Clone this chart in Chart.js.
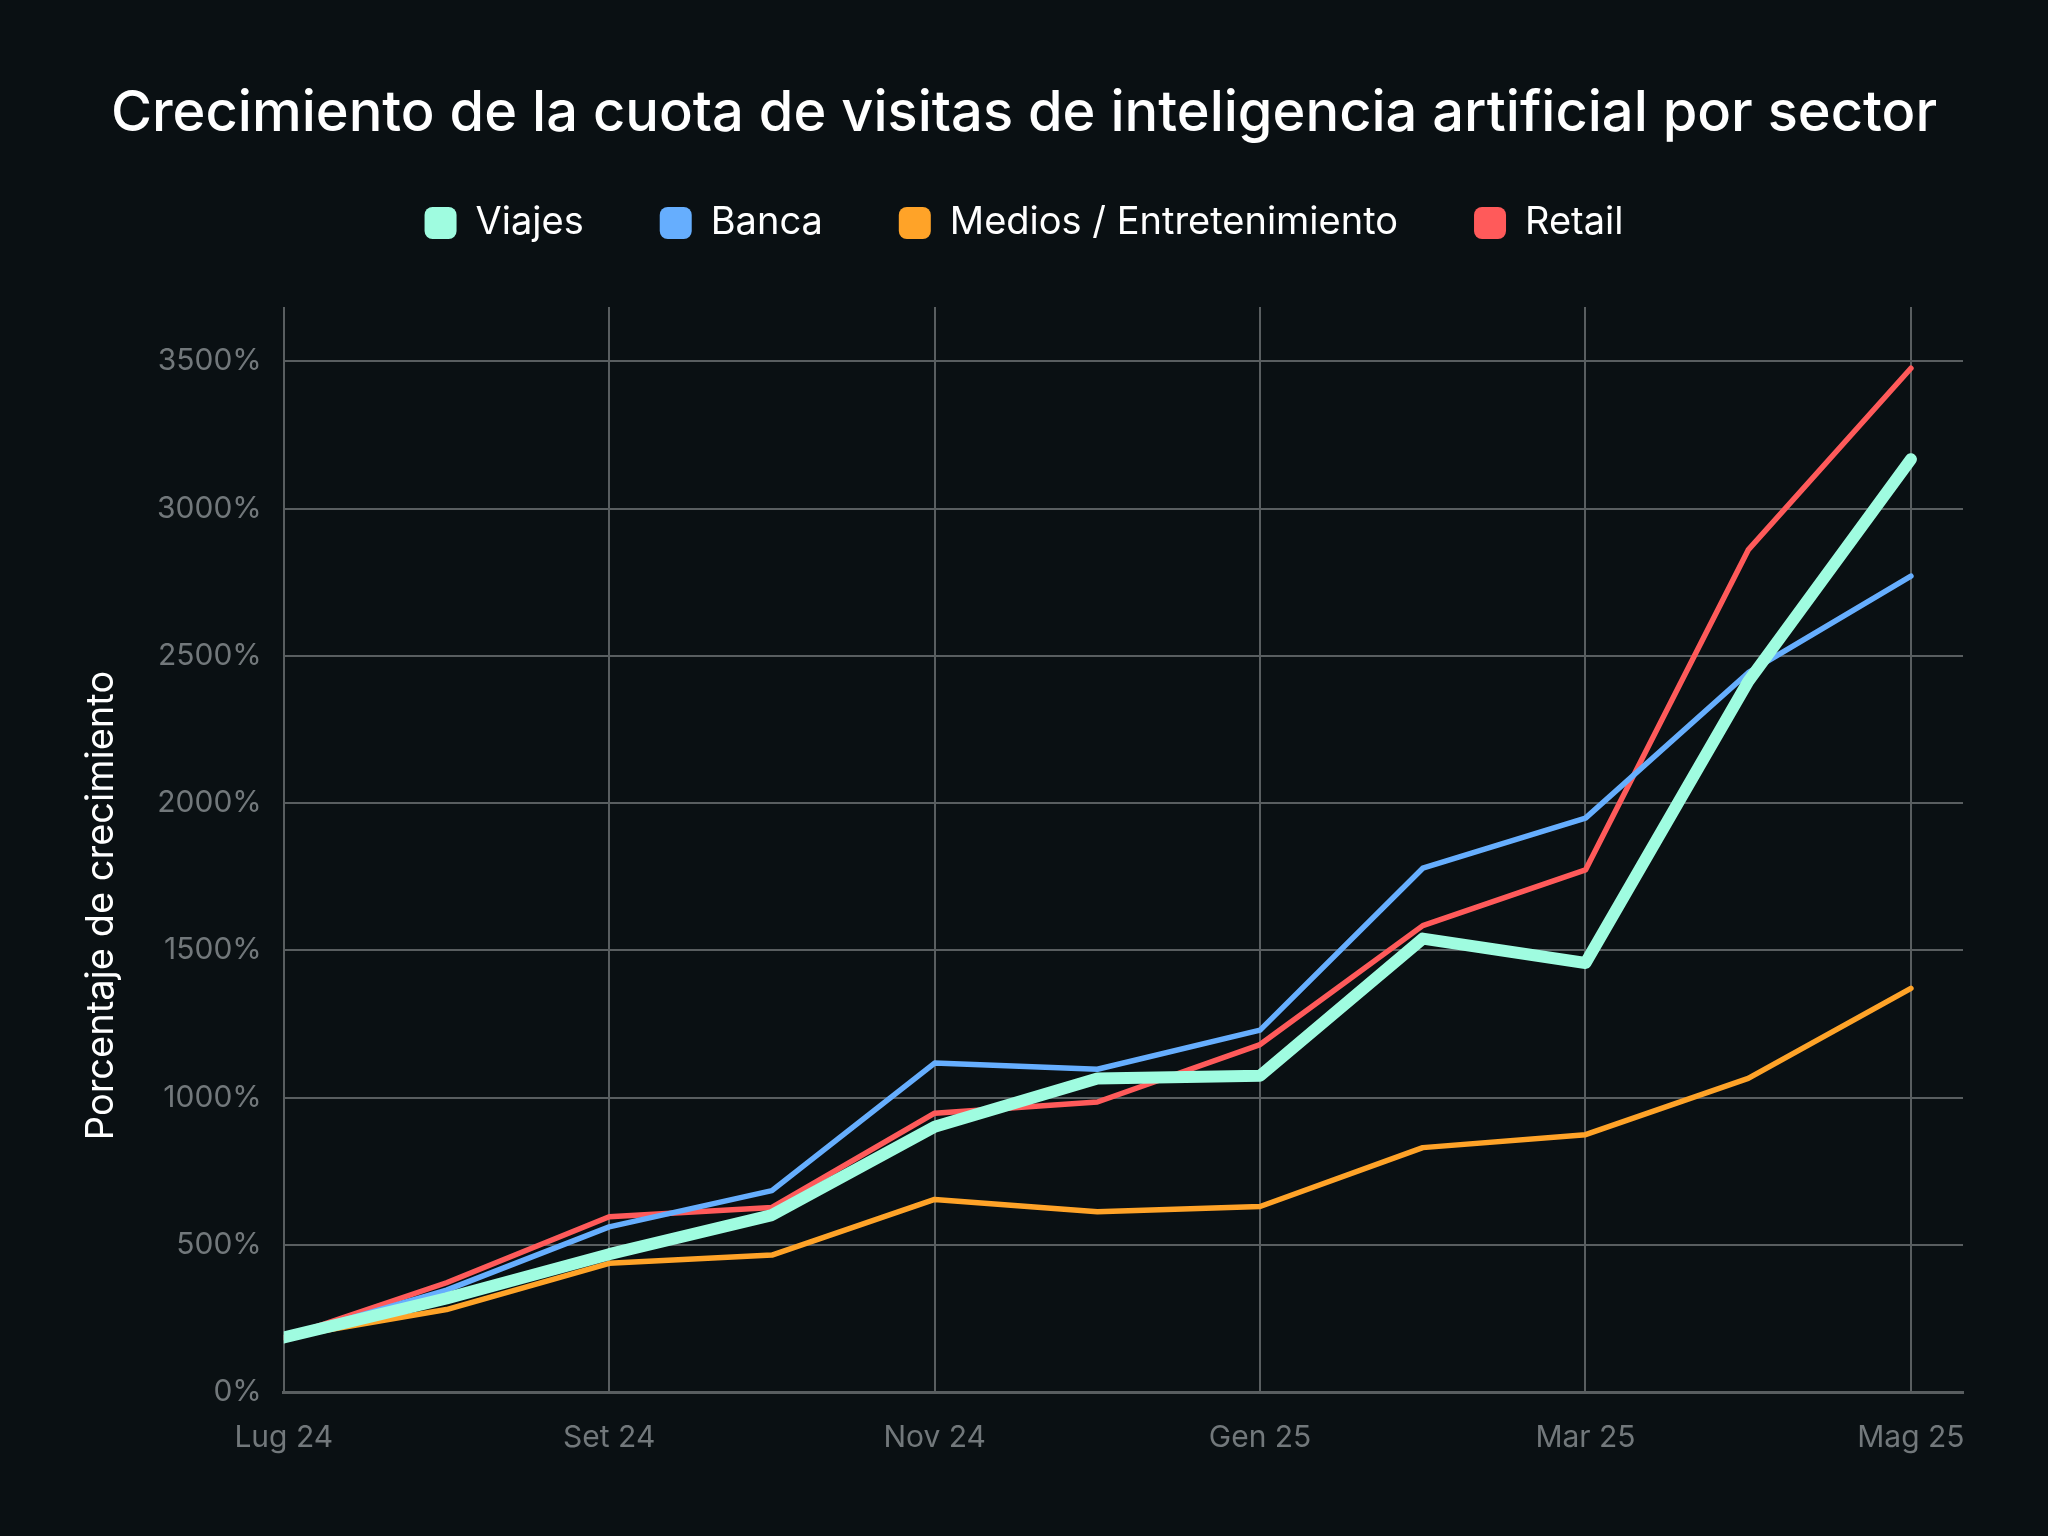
<!DOCTYPE html>
<html>
<head>
<meta charset="utf-8">
<script src="https://cdn.jsdelivr.net/npm/chart.js@4.4.1/dist/chart.umd.min.js"></script>
<style>
    html, body { margin: 0; padding: 0; background: #0a1013; }
    #wrap { width: 2048px; height: 1536px; }
</style>
</head>
<body>
<div id="wrap"><canvas id="chart" width="2048" height="1536"></canvas></div>
<script>
// months on the x axis (one point per month)
const months = ['Lug 24', 'Ago 24', 'Set 24', 'Ott 24', 'Nov 24', 'Dic 24', 'Gen 25', 'Feb 25', 'Mar 25', 'Apr 25', 'Mag 25'];

// growth in % per sector
const viajes = [185, 318, 468, 601, 901, 1065, 1074, 1540, 1457, 2413, 3168];
const banca  = [185, 346, 561, 684, 1117, 1096, 1229, 1779, 1949, 2443, 2771];
const medios = [185, 280, 437, 465, 654, 612, 630, 830, 874, 1065, 1371];
const retail = [185, 371, 595, 627, 947, 985, 1180, 1584, 1773, 2860, 3477];

const yTicks = [0, 500, 1000, 1500, 2000, 2500, 3000, 3500];
const yTitleText = 'Porcentaje de crecimiento';

const toPoints = (arr) => arr.map((v, i) => ({ x: i, y: v }));

const gridColor = '#595e60';
const tickColor = '#72787b';
const fontFamily = 'Inter, "Noto Sans", sans-serif';

Chart.defaults.font.family = fontFamily;

// some room between the legend and the plot
const legendGap = {
    id: 'legendGap',
    afterInit(chart) {
        const fit = chart.legend.fit;
        chart.legend.fit = function () {
            fit.call(this);
            this.height += 55;
        };
    }
};

// y axis title sits a bit below the middle of the plot in the original
const yTitle = {
    id: 'yTitle',
    afterDraw(chart) {
        const { ctx, chartArea } = chart;
        ctx.save();
        ctx.translate(102, (chartArea.top + chartArea.bottom) / 2 + 56);
        ctx.rotate(-Math.PI / 2);
        ctx.font = '38px ' + fontFamily;
        ctx.fillStyle = '#ffffff';
        ctx.textAlign = 'center';
        ctx.textBaseline = 'middle';
        ctx.fillText(yTitleText, 0, 0);
        ctx.restore();
    }
};

new Chart(document.getElementById('chart'), {
    type: 'line',
    data: {
        datasets: [
            { label: 'Viajes', data: toPoints(viajes), borderColor: '#9ffce0', backgroundColor: '#9ffce0', borderWidth: 12 },
            { label: 'Banca', data: toPoints(banca), borderColor: '#66aefe', backgroundColor: '#66aefe', borderWidth: 5.5 },
            { label: 'Medios / Entretenimiento', data: toPoints(medios), borderColor: '#ffa328', backgroundColor: '#ffa328', borderWidth: 5.5 },
            { label: 'Retail', data: toPoints(retail), borderColor: '#ff5a5a', backgroundColor: '#ff5a5a', borderWidth: 5.5 }
        ]
    },
    plugins: [legendGap, yTitle],
    options: {
        responsive: false,
        animation: false,
        devicePixelRatio: 1,
        layout: { padding: { left: 85, right: 85, top: 0, bottom: 52 } },
        elements: {
            point: { radius: 0 },
            line: { tension: 0, borderCapStyle: 'round', borderJoinStyle: 'round' }
        },
        plugins: {
            title: {
                display: true,
                text: 'Crecimiento de la cuota de visitas de inteligencia artificial por sector',
                color: '#ffffff',
                font: { size: 56, weight: '500', lineHeight: 0.5 },
                padding: { top: 100, bottom: 0 }
            },
            legend: {
                labels: {
                    color: '#ffffff',
                    font: { size: 38 },
                    boxWidth: 32,
                    boxHeight: 32,
                    useBorderRadius: true,
                    borderRadius: 8,
                    padding: 76,
                    generateLabels: (chart) => Chart.defaults.plugins.legend.labels
                        .generateLabels(chart)
                        .map(item => ({ ...item, lineWidth: 0 }))
                }
            },
            tooltip: { enabled: false }
        },
        scales: {
            x: {
                type: 'linear',
                min: 0,
                max: 10.32,
                grid: { color: gridColor, lineWidth: 2, drawTicks: false },
                border: { color: gridColor, width: 3 },
                ticks: {
                    stepSize: 2,
                    includeBounds: false,
                    color: tickColor,
                    font: { size: 30 },
                    padding: 28,
                    maxRotation: 0,
                    callback: (v) => months[v]
                }
            },
            y: {
                min: 0,
                max: 3685,
                afterBuildTicks: (scale) => { scale.ticks = yTicks.map(v => ({ value: v })); },
                afterFit: (scale) => { scale.width += 50; },
                grid: { color: gridColor, lineWidth: 2, drawTicks: false },
                border: { display: false },
                ticks: {
                    color: tickColor,
                    font: { size: 30 },
                    padding: 22,
                    callback: (v) => v + '%'
                }
            }
        }
    }
});
</script>
</body>
</html>
